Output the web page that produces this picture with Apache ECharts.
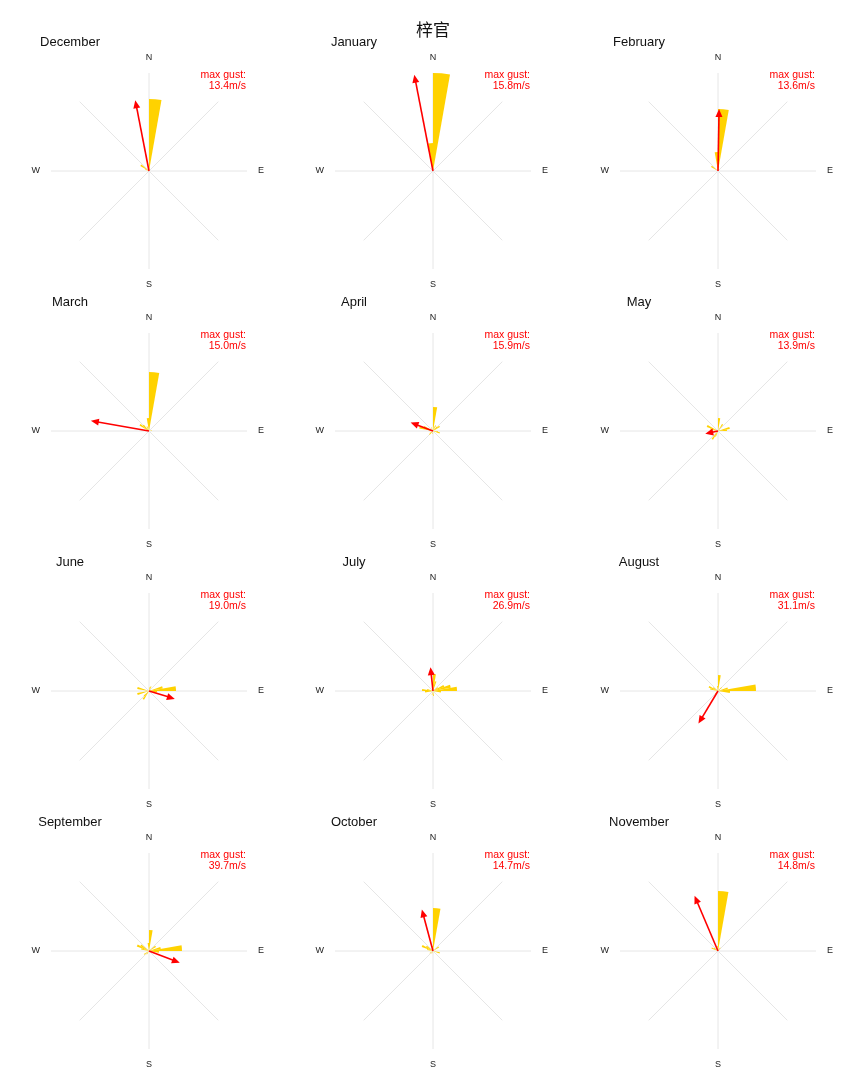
<!DOCTYPE html>
<html><head><meta charset="utf-8">
<script src="https://cdn.jsdelivr.net/npm/echarts@6/dist/echarts.min.js"></script>
<style>html,body{margin:0;padding:0;background:#fff}#c{width:864px;height:1080px}</style>
</head><body><div id="c"></div>
<script>
const stationName = '梓官';
const months = ['December','January','February','March','April','May','June','July','August','September','October','November'];
const compassLabels = {0:'N',90:'E',180:'S',270:'W'};
const dirBins = ['0','10','20','30','40','50','60','70','80','90','100','110','120','130','140','150','160','170',
                 '180','190','200','210','220','230','240','250','260','270','280','290','300','310','320','330','340','350'];
// wind frequency (%) per 10-degree direction bin
const freqDec = [36,0,0,0,0,0,0,0,0,0, 0,0,0,0,0,0,0,0,0,0, 0,0,0,0,0,0,0,0,0,2, 5,0,0,0,0,0];
const freqJan = [49,0,0,0,0,0,0,0,0,0, 0,0,0,0,0,0,0,0,0,0, 0,0,0,0,0,0,0,0,0,0, 0,0,0,0,0,14];
const freqFeb = [31,0,0,0,0,0,0,0,0,0, 0,0,0,0,0,0,0,0,0,0, 0,0,0,0,0,0,0,0,0,0, 4,0,0,0,0,9.5];
const freqMar = [29.5,0,0,0,0,0,0,0,1.5,0, 0,0,0,0,0,0,0,0,0,0, 0,0,0,0,0,0,0,0,0,0, 5.5,4,0,2.5,0,6.5];
const freqApr = [12,0,3,0,3,4,0,0,0,2.5, 3.5,0,0,0,0,0,0,0,1.5,0, 0,0,2.5,2,0,0,0,0,7,5, 0,0,0,2,0,0];
const freqMay = [6.5,0,0,4,0,0,0,6,4.5,0, 0,0,0,0,0,0,0,0,0,0, 3,5,0,0,0,0,0,0,4,6, 0,0,0,0,0,0];
const freqJun = [0,2,2.5,0,0,0,0,7,13.5,4, 0,0,0,0,0,0,0,0,0,0, 0,5,3.5,0,0,6,0,0,6,0, 0,0,0,0,0,0];
const freqJul = [8.5,5,0,0,0,3,6,9,12,4, 0,0,0,0,0,0,0,2.5,0,2, 0,0,0,0,0,0,4,5.5,3,0, 0,0,0,0,0,0];
const freqAug = [8,0,0,0,2.5,0,0,5,19,6, 0,0,0,0,0,0,0,0,0,0, 0,0,2,0,0,0,0,0,4,5, 3,0,0,0,0,2.5];
const freqSep = [10.5,0,0,0,0,4,0,6,16.5,5, 0,0,0,0,0,0,0,0,0,0, 0,2,0,3,0,0,0,0,4,6.5, 5,0,0,0,0,4];
const freqOct = [21.5,0,0,0,0,3.5,0,0,0,0, 3.5,0,0,0,0,0,0,0,0,0, 1.5,0,0,2,0,0,0,0,3,6, 4,0,0,0,0,2.5];
const freqNov = [30,0,0,2,0,0,0,0,0,0, 0,0,0,0,0,0,0,0,0,0, 0,0,0,0,0,0,0,0,0,3.5, 2.5,0,0,0,0,2.5];
const gustSpeed = [13.4,15.8,13.6,15.0,15.9,13.9,19.0,26.9,31.1,39.7,14.7,14.8];
const gustDir   = [349,349,1,280,291,258,107,354,211,111,345,337];

const freqs = [freqDec,freqJan,freqFeb,freqMar,freqApr,freqMay,freqJun,freqJul,freqAug,freqSep,freqOct,freqNov];

const FONT = 'Liberation Sans';
const CX = [149,433,718], CY = [171,431,691,951], R = 98;
const rMax = Math.max(...freqs.map(f => Math.max(...f)));

const polar = [], angleAxis = [], radiusAxis = [], series = [], graphic = [];
graphic.push({type:'text', x:433, y:30, style:{text:stationName, fontSize:17, fontFamily:'Noto Sans CJK SC', fill:'#111', align:'center', verticalAlign:'middle'}});

freqs.forEach((f, k) => {
  const cx = CX[k % 3], cy = CY[Math.floor(k / 3)];
  const g = 2 * k, b = 2 * k + 1;
  polar.push({center:[cx, cy], radius:R});
  polar.push({center:[cx, cy], radius:R});
  angleAxis.push({polarIndex:g, type:'value', min:0, max:360, interval:45, startAngle:90, clockwise:true,
    axisLine:{show:false}, axisTick:{show:false},
    splitLine:{show:true, lineStyle:{color:'#e6e6e6', width:1}},
    axisLabel:{margin:11, color:'#222', fontSize:9, fontFamily:FONT, formatter:v => compassLabels[v] || ''}});
  angleAxis.push({polarIndex:b, type:'category', data:dirBins, startAngle:90, clockwise:true, show:false, boundaryGap:true});
  radiusAxis.push({polarIndex:g, type:'value', min:0, max:rMax, show:false});
  radiusAxis.push({polarIndex:b, type:'value', min:0, max:rMax, show:false});
  series.push({type:'bar', coordinateSystem:'polar', polarIndex:b, data:f, barCategoryGap:'0%', barGap:'0%',
    itemStyle:{color:'#ffd200'}, silent:true, animation:false, z:2});
  series.push({type:'custom', coordinateSystem:'polar', polarIndex:g, silent:true, animation:false, z:5,
    data:[[Math.max(...f), gustDir[k]]],
    renderItem:(params, api) => {
      const r = api.value(0), a = api.value(1);
      const p0 = api.coord([0, a]), p1 = api.coord([r, a]);
      const dx = p1[0]-p0[0], dy = p1[1]-p0[1], L = Math.hypot(dx, dy) || 1;
      const ux = dx/L, uy = dy/L, nx = -uy, ny = ux;
      const hl = 8, hw = 3.5;
      const bx = p1[0]-ux*hl, by = p1[1]-uy*hl;
      return {type:'group', children:[
        {type:'line', z2:10, shape:{x1:p0[0], y1:p0[1], x2:bx+ux, y2:by+uy}, style:{stroke:'#ff0000', lineWidth:1.6}},
        {type:'polygon', z2:10, shape:{points:[[p1[0],p1[1]],[bx+nx*hw,by+ny*hw],[bx-nx*hw,by-ny*hw]]}, style:{fill:'#ff0000'}}
      ]};
    }});
  graphic.push({type:'text', x:cx-79, y:cy-129, style:{text:months[k], fontSize:13, fontFamily:FONT, fill:'#111', align:'center', verticalAlign:'middle'}});
  graphic.push({type:'text', x:cx+97, y:cy-101, style:{text:'max gust:\n' + gustSpeed[k].toFixed(1) + 'm/s', fontSize:10.5, lineHeight:11, fontFamily:FONT, fill:'#ff0000', align:'right', verticalAlign:'top'}});
});

const chart = echarts.init(document.getElementById('c'), null, {renderer:'canvas'});
chart.setOption({animation:false, backgroundColor:'#fff', polar, angleAxis, radiusAxis, series, graphic});
</script></body></html>
